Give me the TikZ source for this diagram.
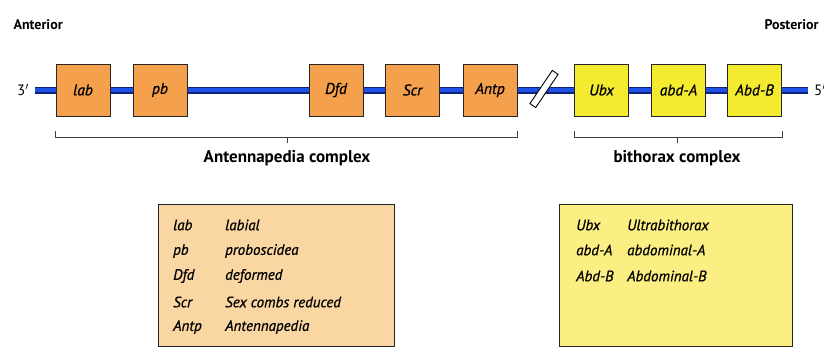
\documentclass[tikz,border=0pt]{standalone}
\usepackage{fontspec}
\setmainfont{PT Sans}
\newfontfamily\semiit[FakeBold=0.8]{PT Sans}
\begin{document}
\begin{tikzpicture}[x=1pt,y=-1pt,
  genebox/.style={draw=black!85, line width=0.9pt, minimum width=54pt, minimum height=52pt, inner sep=0pt, font=\fontsize{15.5}{17}\semiit\itshape},
  antbox/.style={genebox, fill=orangebox},
  bitbox/.style={genebox, fill=yellowbox},
  bracket/.style={draw=black!75, line width=0.7pt},
  title/.style={font=\fontsize{14}{16}\selectfont\bfseries},
  cplx/.style={font=\fontsize{17}{19}\selectfont\bfseries},
  legtext/.style={anchor=west, inner sep=0pt, font=\fontsize{15}{17}\semiit\itshape}
]
\definecolor{orangebox}{HTML}{F5A04C}
\definecolor{yellowbox}{HTML}{F4EA30}
\definecolor{dnablue}{HTML}{1E4FE6}
\definecolor{dnadark}{HTML}{10237A}
\definecolor{legorange}{HTML}{F9D6A2}
\definecolor{legyellow}{HTML}{FBEF84}
\useasboundingbox (0,0) rectangle (824,354);
\fill[white] (0,0) rectangle (824,354);

\node[title, anchor=west] (ant) at (10,25) {Anterior};
\node[title, anchor=east] (post) at (822,25) {Posterior};

\coordinate (dnaL) at (35,90);
\coordinate (dnaR) at (808,90);
\draw[dnadark, line width=7pt] (dnaL) -- (dnaR);
\draw[dnablue, line width=4.6pt] (dnaL) -- (dnaR);
\node[font=\fontsize{15}{17}\selectfont, anchor=east, inner sep=1pt] (three) at ([xshift=-5pt]dnaL) {3$'$};
\node[font=\fontsize{15}{17}\selectfont, anchor=west, inner sep=1pt] (five) at ([xshift=5pt]dnaR) {5$'$};

\node[antbox] (lab) at (83,90) {lab};
\node[antbox] (pb) at (160,90) {pb};
\node[antbox] (dfd) at (336,90) {Dfd};
\node[antbox] (scr) at (412.5,90) {Scr};
\node[antbox] (antp) at (490,90) {Antp};
\node[draw=black, fill=white, line width=0.9pt, minimum width=7pt, minimum height=40pt, inner sep=0pt, rotate=-34] (brk) at (544,89) {};
\node[bitbox] (ubx) at (601.5,90) {Ubx};
\node[bitbox] (abda) at (678.5,90) {abd-A};
\node[bitbox] (abdb) at (754.5,90) {Abd-B};

\draw[bracket] ([shift={(0,15)}]lab.south west) -- ([shift={(0,21)}]lab.south west) -| ([shift={(0,15)}]antp.south east);
\coordinate (antmid) at (287,137);
\draw[bracket] (antmid) -- ++(0,6);
\node[cplx] (antc) at (287,158) {Antennapedia complex};

\draw[bracket] ([shift={(0,15)}]ubx.south west) -- ([shift={(0,21)}]ubx.south west) -| ([shift={(0,15)}]abdb.south east);
\coordinate (bitmid) at (677,137);
\draw[bracket] (bitmid) -- ++(0,6);
\node[cplx] (bitc) at (677,158) {bithorax complex};

\node[draw=black!85, line width=0.9pt, fill=legorange, minimum width=236pt, minimum height=142pt, inner sep=0pt] (legA) at (276,275) {};
\node[draw=black!85, line width=0.9pt, fill=legyellow, minimum width=233pt, minimum height=142pt, inner sep=0pt] (legB) at (675.5,275) {};

\node[legtext] (l1a) at (173,225) {lab};
\node[legtext] (l1b) at (225,225) {labial};
\node[legtext] (l2a) at (173,251) {pb};
\node[legtext] (l2b) at (225,251) {proboscidea};
\node[legtext] (l3a) at (173,276) {Dfd};
\node[legtext] (l3b) at (225,276) {deformed};
\node[legtext] (l4a) at (173,302) {Scr};
\node[legtext] (l4b) at (225,302) {Sex combs reduced};
\node[legtext] (l5a) at (173,327) {Antp};
\node[legtext] (l5b) at (225,327) {Antennapedia};

\node[legtext] (r1a) at (576,225) {Ubx};
\node[legtext] (r1b) at (627,225) {Ultrabithorax};
\node[legtext] (r2a) at (576,250) {abd-A};
\node[legtext] (r2b) at (627,250) {abdominal-A};
\node[legtext] (r3a) at (576,276) {Abd-B};
\node[legtext] (r3b) at (627,276) {Abdominal-B};
\end{tikzpicture}
\end{document}
